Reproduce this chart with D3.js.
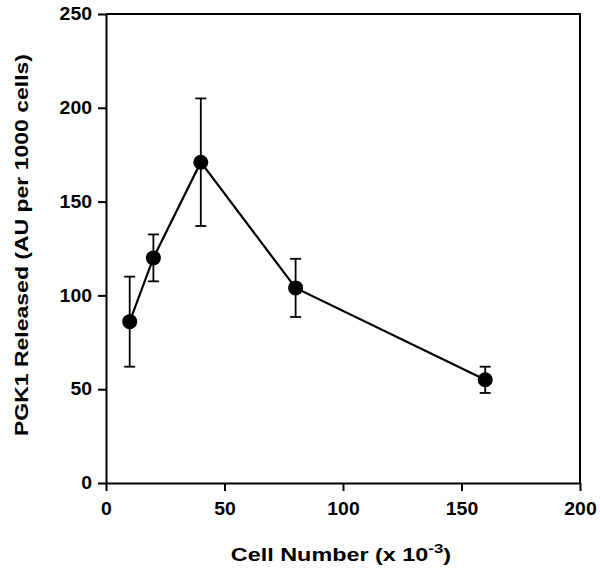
<!DOCTYPE html>
<html>
<head>
<meta charset="utf-8">
<script src="https://cdn.jsdelivr.net/npm/d3@7"></script>
<style>
  html, body { margin: 0; padding: 0; background: #fff; }
  svg { display: block; }
  text { font-family: "Liberation Sans", Arial, sans-serif; font-weight: bold; fill: #000; }
</style>
</head>
<body>
<script>
// Data
const cellNumbers = [10, 20, 40, 80, 160];          // x 10^-3
const pgk1Released = [86, 120, 171, 104, 55];       // AU per 1000 cells
const errorValues = [24, 12.5, 34, 15.5, 7];        // error bar half-lengths
const xTicks = [0, 50, 100, 150, 200];
const yTicks = [0, 50, 100, 150, 200, 250];

const W = 600, H = 568;
const mLeft = 106, mRight = 580, mTop = 14, mBottom = 483;

const svg = d3.select("body").append("svg").attr("width", W).attr("height", H);

const x = d3.scaleLinear().domain([0, 200]).range([mLeft, mRight]);
const y = d3.scaleLinear().domain([0, 250]).range([mBottom, mTop]);

// Frame (top and right)
svg.append("path")
  .attr("d", `M${mLeft},${mTop}H${mRight}V${mBottom}`)
  .attr("fill", "none").attr("stroke", "#000").attr("stroke-width", 2);

// Axes
const xAxis = svg.append("g").attr("transform", `translate(0,${mBottom})`)
  .call(d3.axisBottom(x).tickValues(xTicks).tickSize(8).tickPadding(11).tickSizeOuter(0));
const yAxis = svg.append("g").attr("transform", `translate(${mLeft},0)`)
  .call(d3.axisLeft(y).tickValues(yTicks).tickSize(8).tickPadding(6).tickSizeOuter(0));

[xAxis, yAxis].forEach(g => {
  g.select(".domain").attr("stroke-width", 2).attr("stroke", "#000");
  g.selectAll(".tick line").attr("stroke-width", 2).attr("stroke", "#000");
  g.selectAll(".tick text").attr("font-size", 18).attr("font-family", "Liberation Sans, Arial, sans-serif")
    .attr("font-weight", "bold").attr("fill", "#000")
    .attr("textLength", function () { return this.textContent.length * 10.8; })
    .attr("lengthAdjust", "spacingAndGlyphs");
});

const pts = cellNumbers.map((c, i) => ({ x: c, y: pgk1Released[i], e: errorValues[i] }));

// Error bars
const eb = svg.append("g").attr("stroke", "#000").attr("stroke-width", 1.8).attr("fill", "none");
pts.forEach(d => {
  const cx = x(d.x), y1 = y(d.y + d.e), y2 = y(d.y - d.e);
  eb.append("line").attr("x1", cx).attr("x2", cx).attr("y1", y1).attr("y2", y2);
  eb.append("line").attr("x1", cx - 5.5).attr("x2", cx + 5.5).attr("y1", y1).attr("y2", y1);
  eb.append("line").attr("x1", cx - 5.5).attr("x2", cx + 5.5).attr("y1", y2).attr("y2", y2);
});

// Line
svg.append("path").datum(pts)
  .attr("d", d3.line().x(d => x(d.x)).y(d => y(d.y)))
  .attr("fill", "none").attr("stroke", "#000").attr("stroke-width", 2.2);

// Markers
svg.append("g").selectAll("circle").data(pts).join("circle")
  .attr("cx", d => x(d.x)).attr("cy", d => y(d.y)).attr("r", 7.5).attr("fill", "#000");

// X title (glyphs widened to match reference)
const xt = svg.append("g").attr("transform", "translate(341,561) scale(1.3,1)")
  .append("text").attr("x", 0).attr("y", 0).attr("text-anchor", "middle")
  .attr("font-size", 18);
xt.append("tspan").text("Cell Number (x 10");
xt.append("tspan").attr("font-size", 13).attr("dy", -8).text("-3");
xt.append("tspan").attr("dy", 8).text(")");

// Y title
svg.append("text")
  .attr("transform", `translate(28,${245}) rotate(-90)`)
  .attr("text-anchor", "middle").attr("font-size", 17.5)
  .attr("textLength", 382).attr("lengthAdjust", "spacingAndGlyphs")
  .text("PGK1 Released (AU per 1000 cells)");
</script>
</body>
</html>
